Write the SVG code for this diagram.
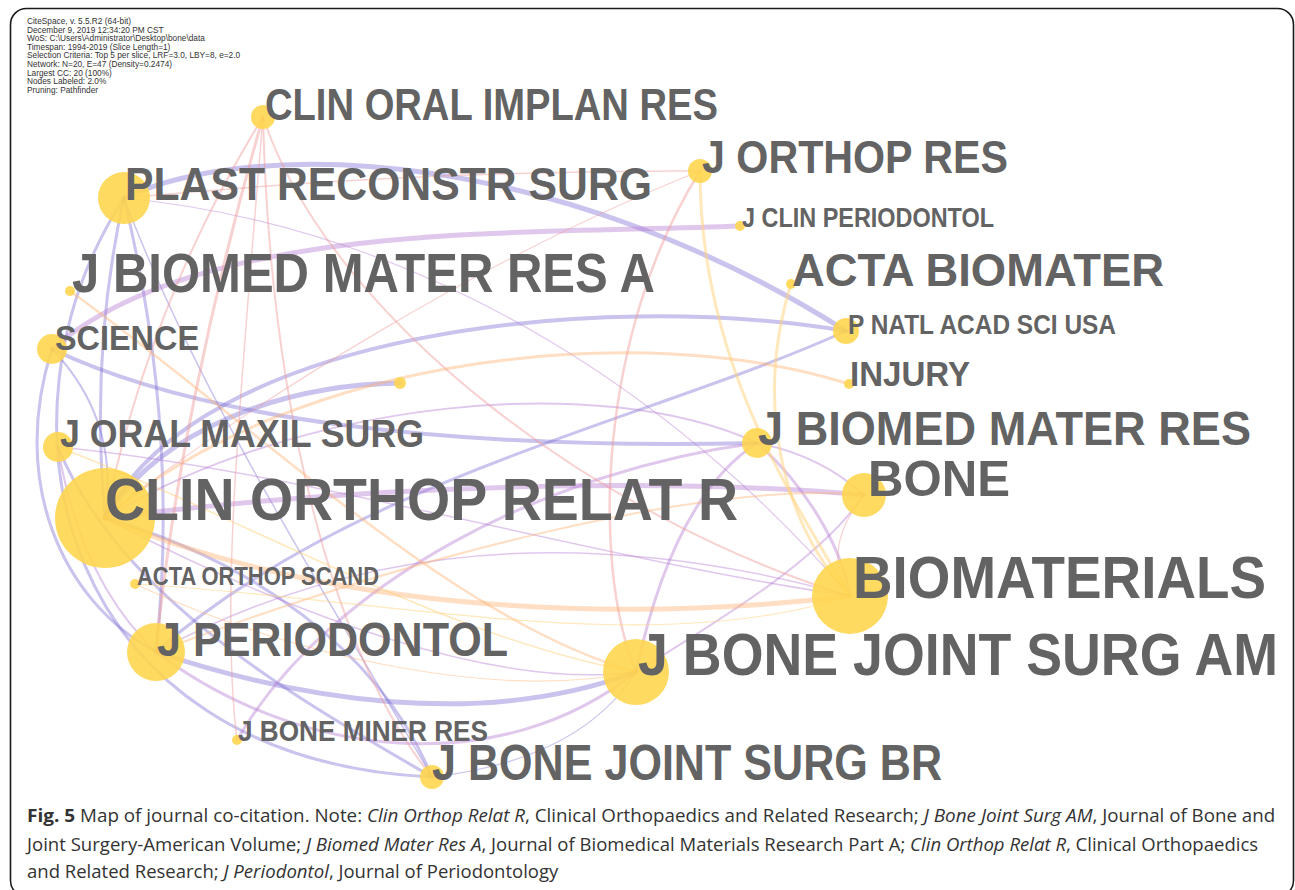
<svg xmlns="http://www.w3.org/2000/svg" width="1295" height="890" viewBox="0 0 1295 890">
<style>
.frame{fill:#fff;stroke:#1a1a1a;stroke-width:1.6}
.info{font-family:"Liberation Sans",Arial,sans-serif;font-size:8.3px;fill:#333}
.e{fill:none;stroke-linecap:round}
.pb{stroke:#7f70d4;opacity:.42}
.vi{stroke:#b57bd3;opacity:.42}
.pk{stroke:#ef9a9a;opacity:.45}
.or{stroke:#ffb070;opacity:.42}
.ye{stroke:#ffd27a;opacity:.5}
.node{fill:#ffd54a;opacity:.88}
.lbl{font-family:"Liberation Sans",Arial,sans-serif;font-weight:bold;fill:#636363}
.cap{font-family:"Open Sans","Liberation Sans",sans-serif;font-size:18.1px;fill:#333}
.it{font-style:italic;font-size:17.6px}
.bd{font-weight:bold;font-size:17.8px}
</style>
<rect class="frame" x="10.5" y="8.5" width="1283" height="888" rx="16"/>
<g id="info">
<text class="info" x="27" y="24">CiteSpace, v. 5.5.R2 (64-bit)</text>
<text class="info" x="27" y="32.6">December 9, 2019 12:34:20 PM CST</text>
<text class="info" x="27" y="41.2">WoS: C:\Users\Administrator\Desktop\bone\data</text>
<text class="info" x="27" y="49.8">Timespan: 1994-2019 (Slice Length=1)</text>
<text class="info" x="27" y="58.4">Selection Criteria: Top 5 per slice, LRF=3.0, LBY=8, e=2.0</text>
<text class="info" x="27" y="67">Network: N=20, E=47 (Density=0.2474)</text>
<text class="info" x="27" y="75.6">Largest CC: 20 (100%)</text>
<text class="info" x="27" y="84.2">Nodes Labeled: 2.0%</text>
<text class="info" x="27" y="92.8">Pruning: Pathfinder</text>
</g>
<g id="edges">
<path class="e pb" stroke-width="5" d="M124,198 C260,135 560,150 846,331"/>
<path class="e pb" stroke-width="5" d="M105,518 C160,430 280,385 400,383"/>
<path class="e pb" stroke-width="4" d="M105,518 C200,330 600,290 846,331"/>
<path class="e pb" stroke-width="4" d="M52,349 C200,420 450,450 757,443"/>
<path class="e pb" stroke-width="5" d="M156,652 C300,700 480,730 636,672"/>
<path class="e pb" stroke-width="3" d="M124,198 C-20,420 60,760 432,777"/>
<path class="e pb" stroke-width="3" d="M124,198 Q90,350 105,518"/>
<path class="e pb" stroke-width="3" d="M124,198 Q180,430 156,652"/>
<path class="e pb" stroke-width="1.5" d="M124,198 C200,400 330,600 432,777"/>
<path class="e pb" stroke-width="3" d="M52,349 C10,480 60,600 156,652"/>
<path class="e pb" stroke-width="1.2" d="M432,777 Q580,760 636,672"/>
<path class="e pb" stroke-width="3" d="M156,652 C350,480 650,420 846,331"/>
<path class="e pb" stroke-width="3" d="M58,447 C120,600 300,700 432,777"/>
<path class="e pb" stroke-width="2" d="M52,349 Q120,420 105,518"/>
<path class="e pb" stroke-width="3" d="M105,518 C250,560 380,650 432,777"/>
<path class="e vi" stroke-width="5" d="M52,349 C200,220 520,235 740,226"/>
<path class="e vi" stroke-width="5" d="M105,518 C400,480 700,480 864,495"/>
<path class="e vi" stroke-width="3" d="M156,652 C300,760 500,780 636,672"/>
<path class="e vi" stroke-width="3" d="M636,672 C660,560 700,480 757,443"/>
<path class="e vi" stroke-width="3" d="M757,443 C800,480 840,540 850,596"/>
<path class="e vi" stroke-width="2" d="M757,443 Q820,455 864,495"/>
<path class="e vi" stroke-width="2" d="M636,672 C720,620 820,560 864,495"/>
<path class="e vi" stroke-width="3" d="M237,740 C330,580 550,470 757,443"/>
<path class="e vi" stroke-width="1.5" d="M156,652 C400,520 650,540 850,596"/>
<path class="e vi" stroke-width="2" d="M105,518 C300,400 600,370 757,443"/>
<path class="e vi" stroke-width="1.5" d="M58,447 C300,470 600,560 850,596"/>
<path class="e vi" stroke-width="1.5" d="M105,518 C300,620 500,690 636,672"/>
<path class="e vi" stroke-width="2" d="M58,447 Q80,580 156,652"/>
<path class="e vi" stroke-width="1.2" d="M124,198 C450,230 700,420 850,596"/>
<path class="e pk" stroke-width="3" d="M263,117 C210,300 170,500 156,652"/>
<path class="e pk" stroke-width="2" d="M263,117 Q150,300 105,518"/>
<path class="e pk" stroke-width="2" d="M263,117 C270,400 330,650 432,777"/>
<path class="e pk" stroke-width="2" d="M263,117 C330,320 600,520 850,596"/>
<path class="e pk" stroke-width="2.5" d="M700,171 C600,330 590,560 636,672"/>
<path class="e pk" stroke-width="1.5" d="M700,171 Q420,170 124,198"/>
<path class="e pk" stroke-width="1.2" d="M700,171 C500,250 250,400 105,518"/>
<path class="e pk" stroke-width="1.5" d="M263,117 C240,400 220,600 237,740"/>
<path class="e pk" stroke-width="1.2" d="M864,495 Q820,550 850,596"/>
<path class="e or" stroke-width="5" d="M105,518 C350,620 650,620 850,596"/>
<path class="e or" stroke-width="3" d="M105,518 C300,350 650,320 849,384"/>
<path class="e or" stroke-width="2.5" d="M70,291 C250,420 450,620 636,672"/>
<path class="e or" stroke-width="1.2" d="M135,584 C300,660 500,700 636,672"/>
<path class="e or" stroke-width="2" d="M156,652 C400,560 700,480 864,495"/>
<path class="e ye" stroke-width="3" d="M700,171 C700,350 780,480 850,596"/>
<path class="e ye" stroke-width="3" d="M791,284 C755,400 780,520 850,596"/>
<path class="e ye" stroke-width="1.5" d="M58,447 C250,520 450,640 636,672"/>
<path class="e ye" stroke-width="1.2" d="M135,584 C400,600 650,660 850,596"/>
</g>
<g id="n-unlabeled"><circle class="node" cx="400" cy="383" r="6"/></g>
<g id="n-clin-oral-implan-res"><circle class="node" cx="263" cy="117" r="12"/><text class="lbl" transform="translate(265,120) scale(1,1.18)" font-size="38.1" textLength="453" lengthAdjust="spacingAndGlyphs">CLIN ORAL IMPLAN RES</text></g>
<g id="n-plast-reconstr-surg"><circle class="node" cx="124" cy="198" r="26"/><text class="lbl" transform="translate(125,200) scale(1,1.1)" font-size="42.7" textLength="527" lengthAdjust="spacingAndGlyphs">PLAST RECONSTR SURG</text></g>
<g id="n-j-biomed-mater-res-a"><circle class="node" cx="70" cy="291" r="5"/><text class="lbl" transform="translate(72,292) scale(1,1.15)" font-size="48.6" textLength="583" lengthAdjust="spacingAndGlyphs">J BIOMED MATER RES A</text></g>
<g id="n-science"><circle class="node" cx="52" cy="349" r="15"/><text class="lbl" transform="translate(55,350) scale(1,1.11)" font-size="32.4" textLength="144" lengthAdjust="spacingAndGlyphs">SCIENCE</text></g>
<g id="n-j-oral-maxil-surg"><circle class="node" cx="58" cy="447" r="15"/><text class="lbl" transform="translate(60,447) scale(1,1.07)" font-size="35.6" textLength="364" lengthAdjust="spacingAndGlyphs">J ORAL MAXIL SURG</text></g>
<g id="n-clin-orthop-relat-r"><circle class="node" cx="105" cy="518" r="50"/><text class="lbl" transform="translate(105,520) scale(1,1.09)" font-size="55" textLength="633" lengthAdjust="spacingAndGlyphs">CLIN ORTHOP RELAT R</text></g>
<g id="n-acta-orthop-scand"><circle class="node" cx="135" cy="584" r="5"/><text class="lbl" transform="translate(137,585) scale(1,1.15)" font-size="21.7" textLength="242" lengthAdjust="spacingAndGlyphs">ACTA ORTHOP SCAND</text></g>
<g id="n-j-periodontol"><circle class="node" cx="156" cy="652" r="29"/><text class="lbl" transform="translate(157,656) scale(1,1.1)" font-size="42.9" textLength="351" lengthAdjust="spacingAndGlyphs">J PERIODONTOL</text></g>
<g id="n-j-bone-miner-res"><circle class="node" cx="237" cy="740" r="5"/><text class="lbl" transform="translate(238,741) scale(1,1.11)" font-size="26.2" textLength="250" lengthAdjust="spacingAndGlyphs">J BONE MINER RES</text></g>
<g id="n-j-bone-joint-surg-br"><circle class="node" cx="432" cy="777" r="12"/><text class="lbl" transform="translate(432,780) scale(1,1.14)" font-size="43.1" textLength="510" lengthAdjust="spacingAndGlyphs">J BONE JOINT SURG BR</text></g>
<g id="n-j-bone-joint-surg-am"><circle class="node" cx="636" cy="672" r="33"/><text class="lbl" transform="translate(638,675) scale(1,1.12)" font-size="53.6" textLength="640" lengthAdjust="spacingAndGlyphs">J BONE JOINT SURG AM</text></g>
<g id="n-biomaterials"><circle class="node" cx="850" cy="596" r="38"/><text class="lbl" transform="translate(853,598) scale(1,1.1)" font-size="54.3" textLength="413" lengthAdjust="spacingAndGlyphs">BIOMATERIALS</text></g>
<g id="n-bone"><circle class="node" cx="864" cy="495" r="22"/><text class="lbl" transform="translate(868,496) scale(1,1.02)" font-size="49.2" textLength="142" lengthAdjust="spacingAndGlyphs">BONE</text></g>
<g id="n-j-biomed-mater-res"><circle class="node" cx="757" cy="443" r="15"/><text class="lbl" transform="translate(758,445) scale(1,1.09)" font-size="44.8" textLength="493" lengthAdjust="spacingAndGlyphs">J BIOMED MATER RES</text></g>
<g id="n-injury"><circle class="node" cx="849" cy="384" r="5"/><text class="lbl" transform="translate(850,386) scale(1,1.07)" font-size="32.7" textLength="120" lengthAdjust="spacingAndGlyphs">INJURY</text></g>
<g id="n-p-natl-acad-sci-usa"><circle class="node" cx="846" cy="331" r="13"/><text class="lbl" transform="translate(848,334) scale(1,1.12)" font-size="24.1" textLength="268" lengthAdjust="spacingAndGlyphs">P NATL ACAD SCI USA</text></g>
<g id="n-acta-biomater"><circle class="node" cx="791" cy="284" r="5"/><text class="lbl" transform="translate(792,286) scale(1,1.06)" font-size="44.3" textLength="372" lengthAdjust="spacingAndGlyphs">ACTA BIOMATER</text></g>
<g id="n-j-clin-periodontol"><circle class="node" cx="740" cy="226" r="5"/><text class="lbl" transform="translate(742,227) scale(1,1.16)" font-size="23.4" textLength="252" lengthAdjust="spacingAndGlyphs">J CLIN PERIODONTOL</text></g>
<g id="n-j-orthop-res"><circle class="node" cx="700" cy="171" r="12"/><text class="lbl" transform="translate(702,173) scale(1,1.12)" font-size="41.1" textLength="306" lengthAdjust="spacingAndGlyphs">J ORTHOP RES</text></g>
<g id="caption">
<text class="cap bd" x="27" y="822" textLength="48.2" lengthAdjust="spacingAndGlyphs">Fig. 5</text>
<text class="cap" x="80.1" y="822" textLength="282" lengthAdjust="spacingAndGlyphs">Map of journal co-citation. Note:</text>
<text class="cap it" x="367" y="822" textLength="158" lengthAdjust="spacingAndGlyphs">Clin Orthop Relat R</text>
<text class="cap" x="525" y="822" textLength="393.8" lengthAdjust="spacingAndGlyphs">, Clinical Orthopaedics and Related Research;</text>
<text class="cap it" x="923.7" y="822" textLength="168.8" lengthAdjust="spacingAndGlyphs">J Bone Joint Surg AM</text>
<text class="cap" x="1092.5" y="822" textLength="182.7" lengthAdjust="spacingAndGlyphs">, Journal of Bone and</text>
<text class="cap" x="27" y="851" textLength="274.1" lengthAdjust="spacingAndGlyphs">Joint Surgery-American Volume;</text>
<text class="cap it" x="305.9" y="851" textLength="175.6" lengthAdjust="spacingAndGlyphs">J Biomed Mater Res A</text>
<text class="cap" x="481.5" y="851" textLength="423.8" lengthAdjust="spacingAndGlyphs">, Journal of Biomedical Materials Research Part A;</text>
<text class="cap it" x="910.1" y="851" textLength="155.9" lengthAdjust="spacingAndGlyphs">Clin Orthop Relat R</text>
<text class="cap" x="1066" y="851" textLength="192.1" lengthAdjust="spacingAndGlyphs">, Clinical Orthopaedics</text>
<text class="cap" x="27" y="878" textLength="191.7" lengthAdjust="spacingAndGlyphs">and Related Research;</text>
<text class="cap it" x="223.5" y="878" textLength="105.4" lengthAdjust="spacingAndGlyphs">J Periodontol</text>
<text class="cap" x="328.9" y="878" textLength="229.4" lengthAdjust="spacingAndGlyphs">, Journal of Periodontology</text>
</g>
</svg>
